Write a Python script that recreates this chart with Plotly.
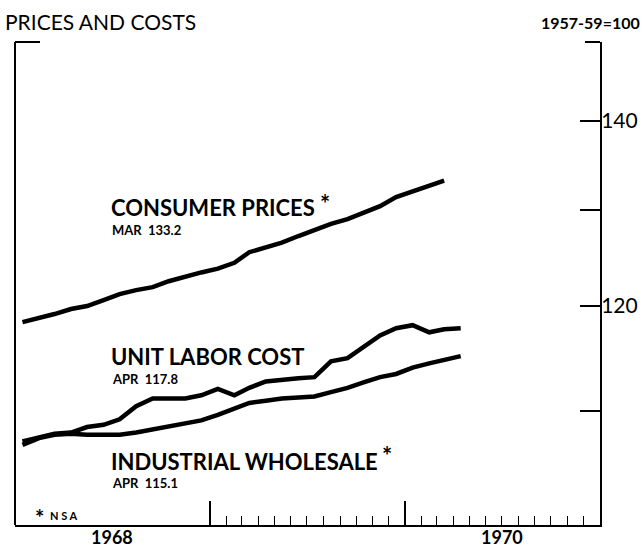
import numpy as np
import pandas as pd
import plotly.graph_objects as go

# ---- data (monthly, index 1957-59=100) ----
months_cpi = pd.date_range("1968-01-01", periods=27, freq="MS") + pd.Timedelta(days=14)
months_other = pd.date_range("1968-01-01", periods=28, freq="MS") + pd.Timedelta(days=14)

consumer_prices = [118.4, 118.8, 119.2, 119.7, 120.0, 120.6, 121.2, 121.6, 121.9,
                   122.5, 123.0, 123.4, 123.8, 124.4, 125.5, 126.0, 126.5, 127.2,
                   127.9, 128.5, 129.0, 129.7, 130.4, 131.4, 132.0, 132.7, 133.2]
unit_labor_cost = [107.2, 107.6, 107.9, 108.0, 108.5, 108.7, 109.2, 110.4, 111.1,
                   111.1, 111.1, 111.4, 112.0, 111.4, 112.1, 112.7, 112.9, 113.0,
                   113.1, 114.6, 114.9, 116.0, 117.1, 117.8, 118.1, 117.4, 117.7, 117.8]
industrial_wholesale = [106.9, 107.5, 107.8, 107.9, 107.8, 107.8, 107.8, 108.0, 108.3,
                        108.5, 108.9, 109.1, 109.6, 110.2, 110.7, 110.9, 111.1, 111.2,
                        111.3, 111.7, 112.1, 112.6, 113.1, 113.4, 114.0, 114.4, 114.7, 115.1]

y_tick_vals = [110, 120, 130, 140]
y_tick_text = ["", "120", "", "140"]
year_labels = ["1968", "1970"]
year_label_pos = ["1968-07-01", "1970-07-01"]
major_x_ticks = ["1969-01-01", "1970-01-01"]
minor_x_ticks = [d.strftime("%Y-%m-%d") for d in pd.date_range("1969-02-01", "1970-12-01", freq="MS")
                 if d.strftime("%Y-%m-%d") not in major_x_ticks]

W, H = 643, 548
L, R, T, B = 15, 600, 42, 525
FONT = "Lato"

def px(x):
    return (x - L) / (R - L)

def py(y):
    return (B - y) / (B - T)

fig = go.Figure()
line_style = dict(color="black", width=4.5)
fig.add_trace(go.Scatter(x=months_cpi, y=consumer_prices, mode="lines", line=line_style,
                         showlegend=False, hoverinfo="skip"))
fig.add_trace(go.Scatter(x=months_other, y=unit_labor_cost, mode="lines", line=line_style,
                         showlegend=False, hoverinfo="skip"))
fig.add_trace(go.Scatter(x=months_other, y=industrial_wholesale, mode="lines", line=line_style,
                         showlegend=False, hoverinfo="skip"))

fig.update_layout(
    width=W, height=H, autosize=False,
    margin=dict(l=L, r=W - R, t=T, b=H - B, pad=0, autoexpand=False),
    paper_bgcolor="white", plot_bgcolor="white",
    font=dict(family=FONT, color="black"),
    xaxis=dict(
        type="date", range=["1968-01-01", "1971-01-01"], automargin=False,
        showgrid=False, zeroline=False,
        showline=True, linecolor="black", linewidth=2,
        ticks="inside", tickmode="array", tickvals=major_x_ticks,
        ticklen=24, tickwidth=1.5, tickcolor="black",
        showticklabels=False,
        minor=dict(tickmode="array", tickvals=minor_x_ticks, ticks="inside",
                   ticklen=9, tickwidth=1.2, tickcolor="black", showgrid=False),
    ),
    yaxis=dict(
        type="log", range=[2, np.log10(149.5)], automargin=False,
        side="right", showgrid=False, zeroline=False,
        showline=True, linecolor="black", linewidth=2,
        ticks="inside", tickmode="array", tickvals=y_tick_vals, ticktext=y_tick_text,
        ticklen=20, tickwidth=1.5, tickcolor="black", ticklabelstandoff=-5,
        tickfont=dict(family=FONT, size=21, color="black"),
    ),
)

# frame pieces
fig.add_shape(type="line", xref="paper", yref="paper", x0=0, x1=0, y0=0, y1=1,
              line=dict(color="black", width=2))
fig.add_shape(type="line", xref="paper", yref="paper", x0=0, x1=px(40), y0=1, y1=1,
              line=dict(color="black", width=2))
fig.add_shape(type="line", xref="paper", yref="paper", x0=px(585), x1=1, y0=1, y1=1,
              line=dict(color="black", width=2))

def ann(text, x, y, size, bold=False, xanchor="left", yanchor="middle", **kw):
    fig.add_annotation(text=f"<b>{text}</b>" if bold else text,
                       x=px(x), y=py(y), xref="paper", yref="paper",
                       xanchor=xanchor, yanchor=yanchor, showarrow=False,
                       font=dict(family=FONT, size=size, color="black"), **kw)

# title and base note
ann("PRICES AND COSTS", 3, 21, 21)
ann("1957-59=100", 642, 22, 16, bold=True, xanchor="right")

# series labels
ann("CONSUMER PRICES", 109, 207, 22, bold=True)
ann("*", 318, 203, 24, bold=True)
ann("MAR  133.2", 110, 230, 13, bold=True)

ann("UNIT LABOR COST", 109, 356, 22, bold=True)
ann("APR  117.8", 110, 379, 13, bold=True)

ann("INDUSTRIAL WHOLESALE", 109, 461, 22, bold=True)
ann("*", 380, 455, 24, bold=True)
ann("APR  115.1", 110, 483, 13, bold=True)

ann("*", 33, 517, 22, bold=True)
ann("N S A", 48, 515, 11, bold=True)

# year labels
for lab, pos in zip(year_labels, year_label_pos):
    fig.add_annotation(text=f"<b>{lab}</b>", x=pos, y=0, xref="x", yref="paper",
                       xanchor="center", yanchor="top", yshift=1, showarrow=False,
                       font=dict(family=FONT, size=18, color="black"))

fig.write_html("out.html", config={"displayModeBar": False, "responsive": False},
               post_script="document.body.style.margin='0';")
